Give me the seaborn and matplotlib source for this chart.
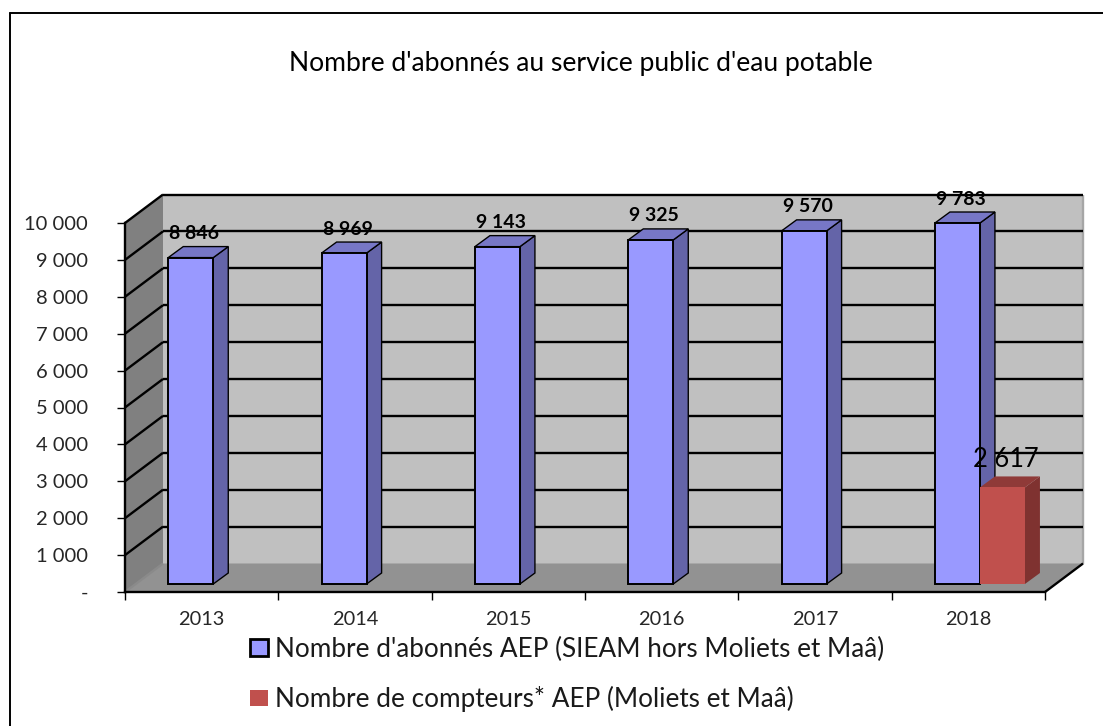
import matplotlib
matplotlib.use("Agg")
import matplotlib.pyplot as plt
import numpy as np
import pandas as pd
import seaborn as sns
from matplotlib.lines import Line2D
from matplotlib.patches import Polygon, Patch
from matplotlib.transforms import Affine2D, IdentityTransform

years = ["2013", "2014", "2015", "2016", "2017", "2018"]
abonnes = [8846, 8969, 9143, 9325, 9570, 9783]
compteurs = [None, None, None, None, None, 2617]
series_names = ["Nombre d'abonnés AEP (SIEAM hors Moliets et Maâ)",
                "Nombre de compteurs* AEP (Moliets et Maâ)"]
title = "Nombre d'abonnés au service public d'eau potable"
yticks = list(range(0, 11000, 1000))

W, H = 1103, 726
sns.set_theme(style="white")
plt.rcParams["font.family"] = ["Lato", "DejaVu Sans"]
fig = plt.figure(figsize=(W / 100, H / 100), dpi=100, facecolor="white")
ax = fig.add_axes([125 / W, 1 - 592 / H, 920 / W, 369 / H])
ax.patch.set_visible(False)

rows = [(y, series_names[0], v) for y, v in zip(years, abonnes)] + \
       [(y, series_names[1], v) for y, v in zip(years, compteurs)]
df = pd.DataFrame(rows, columns=["annee", "serie", "valeur"])
df["valeur"] = pd.to_numeric(df["valeur"])
sns.barplot(data=df, x="annee", y="valeur", hue="serie", hue_order=series_names,
            palette=["#9999FF", "#C0504D"], width=0.587, errorbar=None, ax=ax,
            saturation=1, legend=False, order=years)
ax.set_xlim(-0.5, 5.5)
ax.set_ylim(0, 10000)
ax.set_xlabel("")
ax.set_ylabel("")

BACK = np.array([38.0, 28.5])     # depth of the chart box, in pixels
PLANE = np.array([11.6, 8.0])     # front plane of the bars
BAR = np.array([15.0, 11.0])      # depth of a bar
px = IdentityTransform()


def P(x, v, d=(0, 0)):
    return ax.transData.transform((x, v)) + np.asarray(d)


def poly(points, z, **kw):
    kw.setdefault("linewidth", 0)
    ax.add_patch(Polygon(points, closed=True, transform=px, clip_on=False, zorder=z, **kw))


def line(a, b, z, color="black", lw=1.7):
    ax.add_line(Line2D([a[0], b[0]], [a[1], b[1]], transform=px, clip_on=False,
                       color=color, lw=lw, zorder=z, solid_capstyle="butt"))


x0, x1 = -0.5, 5.5
v0, v1 = 0, 10000
# walls and floor
poly([P(x0, v0, BACK), P(x1, v0, BACK), P(x1, v1, BACK), P(x0, v1, BACK)], 0.1, facecolor="#C0C0C0")
poly([P(x0, v0), P(x0, v0, BACK), P(x0, v1, BACK), P(x0, v1)], 0.2, facecolor="#808080")
poly([P(x0, v0), P(x1, v0), P(x1, v0, BACK), P(x0, v0, BACK)], 0.3, facecolor="#929292")
line(P(x1, v0, BACK), P(x1, v1, BACK), 0.35, color="#A6A6A6")
line(P(x0, v0), P(x0, v0, BACK), 0.35, color="#8A8A8A")
# gridlines
for t in yticks[1:]:
    line(P(x0, t), P(x0, t, BACK), 0.4)
    line(P(x0, t, BACK), P(x1, t, BACK), 0.4)
line(P(x1, v0), P(x1, v0, BACK), 0.4)

# bars: seaborn draws the front faces, depth faces come from their geometry
shift = ax.transData + Affine2D().translate(*PLANE)
styles = [("#6464A8", "#7777C6", "black", 1.4), ("#7F3230", "#8F3A38", "none", 0)]
for k, (cont, (side, top, edge, lw)) in enumerate(zip(ax.containers, styles)):
    for bar in cont:
        x, w, h = bar.get_x(), bar.get_width(), bar.get_height()
        if not np.isfinite(h):
            continue
        z = 1 + k
        bar.set_transform(shift)
        bar.set_clip_on(False)
        bar.set_edgecolor(edge)
        bar.set_linewidth(lw)
        bar.set_zorder(z + 0.2)
        poly([P(x + w, 0, PLANE), P(x + w, 0, PLANE + BAR), P(x + w, h, PLANE + BAR), P(x + w, h, PLANE)],
             z, facecolor=side, edgecolor=edge, linewidth=lw * 0.7)
        poly([P(x, h, PLANE), P(x + w, h, PLANE), P(x + w, h, PLANE + BAR), P(x, h, PLANE + BAR)],
             z, facecolor=top, edgecolor=edge, linewidth=lw * 0.7)
        if k == 0:
            ax.annotate(f"{int(h):,}".replace(",", " "), P(x + w / 2, h, PLANE), xycoords=px,
                        xytext=(3.5, 24), textcoords="offset pixels", ha="center", va="center",
                        fontsize=14, fontweight="bold", color="black", zorder=5,
                        annotation_clip=False)
        else:
            ax.annotate(f"{int(h):,}".replace(",", " "), P(x + w / 2, h, PLANE), xycoords=px,
                        xytext=(3.5, 28), textcoords="offset pixels", ha="center", va="center",
                        fontsize=18.4, color="black", zorder=5, annotation_clip=False)

# axes on the front plane
for s in ("top", "right"):
    ax.spines[s].set_visible(False)
for s in ("left", "bottom"):
    ax.spines[s].set_visible(True)
    ax.spines[s].set_color("black")
    ax.spines[s].set_linewidth(1.7)
    ax.spines[s].set_zorder(0.6)
ax.set_yticks(yticks)
ax.set_yticklabels(["-" if t == 0 else f"{t:,}".replace(",", " ") for t in yticks])
ax.set_xticks(range(len(years)))
ax.set_xticklabels(years)
ax.set_xticks(np.arange(-0.5, 6), minor=True)
ax.tick_params(axis="y", length=5.5, width=1, color="black", pad=21, labelsize=14.5,
               labelcolor="#262626", left=True)
ax.tick_params(axis="x", which="major", length=0, pad=14, labelsize=14.4, labelcolor="#262626")
ax.tick_params(axis="x", which="minor", length=5.5, width=1, color="black", bottom=True)

fig.text(581 / W, 1 - 64 / H, title, ha="center", va="center", fontsize=19.1, color="black")

handles = [Patch(facecolor="#9999FF", edgecolor="black", linewidth=2),
           Patch(facecolor="#C0504D", edgecolor="none")]
fig.legend(handles, series_names, loc="upper left", bbox_to_anchor=(250 / W, 1 - 637 / H),
           frameon=False, fontsize=18.8, labelspacing=0.92, handlelength=0.69, handleheight=0.62,
           handletextpad=0.28, borderpad=0, borderaxespad=0, labelcolor="#1a1a1a")

# outer frame
fig.add_artist(Line2D([10 / W, 10 / W], [0, 1 - 13 / H], color="black", lw=1.4))
fig.add_artist(Line2D([10 / W, 1], [1 - 13 / H, 1 - 13 / H], color="black", lw=1.4))

fig.savefig("out.png", dpi=100, facecolor="white")
